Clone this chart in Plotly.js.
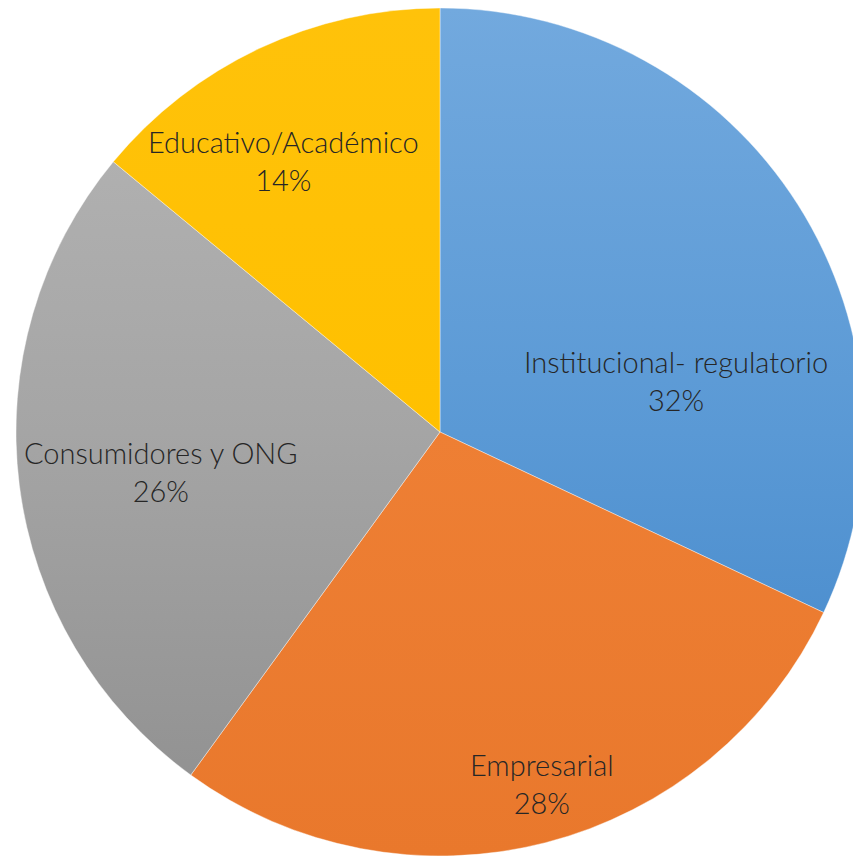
<!DOCTYPE html>
<html>
<head>
<meta charset="utf-8">
<script src="https://cdn.plot.ly/plotly-3.0.1.min.js"></script>
<style>
html, body { margin: 0; padding: 0; background: #ffffff; overflow: hidden; width: 853px; height: 856px; }
#chart { width: 880px; height: 856px; }
</style>
</head>
<body>
<div id="chart"></div>
<script>
const categories = ["Institucional- regulatorio", "Empresarial", "Consumidores y ONG", "Educativo/Académico"];
const shares = [32, 28, 26, 14];
const sliceColors = ["#5799d6", "#ed7d31", "#a5a5a5", "#ffc000"];

// styling: vertical gradient stops (top, middle, bottom) per slice
const gradientStops = [
  ["#72a9de", "#5a99d5", "#3f84c8"],
  ["#f28c45", "#ee7f34", "#e9782c"],
  ["#b6b6b6", "#a5a5a5", "#8e8e8e"],
  ["#ffc20a", "#ffc000", "#fbbc00"]
];
// label placement: [angle shift from slice middle (deg), radius fraction]
const labelPlacement = [[20, 0.57], [-1.8, 0.864], [-0.8, 0.665], [-4.8, 0.74]];

const W = 880, H = 856;
const cx = 440, cy = 432, r = 424;

const trace = {
  type: "pie",
  labels: categories,
  values: shares,
  sort: false,
  direction: "clockwise",
  rotation: 0,
  marker: { colors: sliceColors, line: { color: "#ffffff", width: 0.4 } },
  textinfo: "none",
  hoverinfo: "label+percent",
  showlegend: false,
  domain: { x: [(cx - r) / W, (cx + r) / W], y: [(H - cy - r) / H, (H - cy + r) / H] }
};

const total = shares.reduce((a, b) => a + b, 0);
let cum = 0;
const annotations = categories.map((cat, i) => {
  const mid = (cum + shares[i] / 2) / total * 360;
  cum += shares[i];
  const ang = (mid + labelPlacement[i][0]) * Math.PI / 180;
  const d = labelPlacement[i][1] * r;
  const px = cx + d * Math.sin(ang);
  const py = cy - d * Math.cos(ang);
  return {
    xref: "paper", yref: "paper",
    x: px / W, y: (H - py) / H,
    xanchor: "center", yanchor: "middle",
    text: cat + "<br>" + Math.round(shares[i] / total * 100) + "%",
    showarrow: false,
    align: "center",
    font: { family: "Lato, 'Open Sans', sans-serif", size: 29, color: "#262626", weight: 300 }
  };
});

const layout = {
  width: W,
  height: H,
  margin: { l: 0, r: 0, t: 0, b: 0, pad: 0 },
  paper_bgcolor: "#ffffff",
  plot_bgcolor: "#ffffff",
  showlegend: false,
  annotations: annotations
};

Plotly.newPlot("chart", [trace], layout, { displayModeBar: false, staticPlot: true }).then(gd => {
  const svg = gd.querySelector("svg.main-svg");
  const surfaces = Array.from(gd.querySelectorAll("g.slice path.surface"));
  if (!svg || !surfaces.length) return;
  let minY = Infinity, maxY = -Infinity;
  surfaces.forEach(p => { const b = p.getBBox(); minY = Math.min(minY, b.y); maxY = Math.max(maxY, b.y + b.height); });
  const NS = "http://www.w3.org/2000/svg";
  let defs = svg.querySelector("defs");
  if (!defs) { defs = document.createElementNS(NS, "defs"); svg.insertBefore(defs, svg.firstChild); }
  surfaces.forEach((p, i) => {
    const stops = gradientStops[i % gradientStops.length];
    const g = document.createElementNS(NS, "linearGradient");
    g.setAttribute("id", "sliceGrad" + i);
    g.setAttribute("gradientUnits", "userSpaceOnUse");
    g.setAttribute("x1", "0"); g.setAttribute("x2", "0");
    g.setAttribute("y1", String(minY)); g.setAttribute("y2", String(maxY));
    stops.forEach((c, k) => {
      const s = document.createElementNS(NS, "stop");
      s.setAttribute("offset", String(k / (stops.length - 1)));
      s.setAttribute("stop-color", c);
      g.appendChild(s);
    });
    defs.appendChild(g);
    p.style.fill = "url(#sliceGrad" + i + ")";
  });
});
</script>
</body>
</html>
